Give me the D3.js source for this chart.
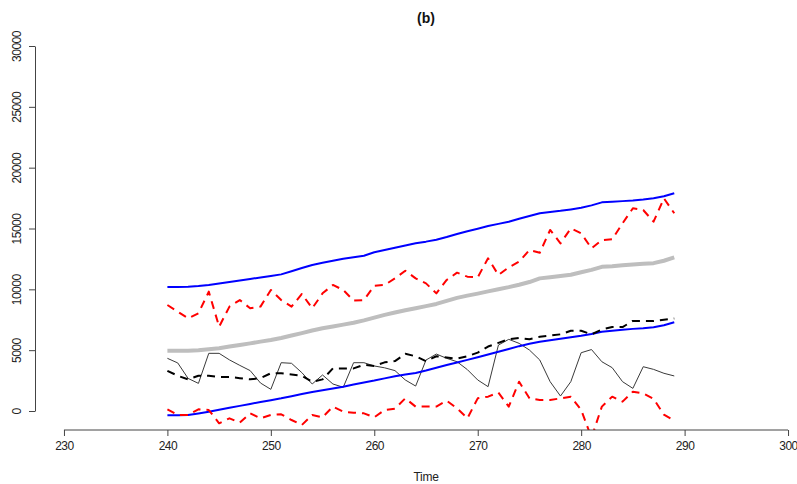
<!DOCTYPE html>
<html lang="en">
<head>
<meta charset="utf-8" />
<title>(b)</title>
<style>
html, body {
	margin: 0;
	padding: 0;
	background: #fff;
}
svg {
	display: block;
	font-family: "Liberation Sans", Arial, sans-serif;
}
</style>
</head>
<body>
<svg width="797" height="484"></svg>

<script src="https://cdn.jsdelivr.net/npm/d3@7/dist/d3.min.js"></script>
<script>

// time index
var time = [240,241,242,243,244,245,246,247,248,249,250,251,252,253,254,255,256,257,258,259,
	260,261,262,263,264,265,266,267,268,269,270,271,272,273,274,275,276,277,278,279,
	280,281,282,283,284,285,286,287,288,289];

// thin black line
var actual = [4330,3950,2680,2270,4740,4740,4200,3750,3320,2300,1780,3970,3920,3150,2220,2960,2220,1950,3970,3970,
	3700,3550,3320,2550,2050,4190,4680,4330,4050,3400,2550,2000,5420,5890,5560,5010,4190,2410,1230,2410,
	4790,5050,4050,3560,2410,1860,3640,3420,3100,2880];

// thick grey line
var forecast = [4950,4950,4960,5000,5080,5160,5300,5430,5560,5700,5840,6000,6200,6400,6620,6800,6950,7100,7250,7450,
	7680,7900,8100,8280,8450,8620,8800,9050,9300,9480,9650,9830,10000,10180,10380,10600,10900,11000,11100,11200,
	11400,11600,11850,11900,11980,12050,12100,12150,12350,12620];

// blue bands
var upperBlue = [10200,10200,10220,10280,10360,10480,10600,10720,10850,10980,11100,11230,11480,11750,12000,12180,12350,12520,12640,12760,
	13050,13230,13420,13600,13780,13920,14080,14300,14550,14780,14980,15200,15380,15560,15800,16020,16250,16350,16450,16570,
	16700,16900,17150,17200,17250,17300,17380,17480,17650,17900];
var lowerBlue = [-350,-350,-330,-200,-60,100,260,420,580,740,890,1040,1220,1390,1560,1700,1850,2000,2170,2340,
	2500,2680,2850,3000,3130,3330,3550,3780,3990,4200,4420,4640,4870,5100,5330,5520,5700,5820,5940,6060,
	6180,6330,6520,6600,6680,6750,6800,6880,7050,7300];

// black dashed line
var blackDashed = [3300,2900,2600,2900,2900,2800,2800,2700,2600,2700,3100,3100,3000,2900,2400,2600,3500,3500,3500,3800,
	3700,4000,4100,4700,4500,4100,4500,4400,4300,4500,4800,5300,5600,5900,6000,5900,6100,6200,6300,6600,
	6600,6300,6700,6900,6900,7400,7400,7400,7500,7600];

// red dashed lines
var redUpper = [8710,8160,7620,8030,9810,6930,8580,9120,8440,8580,9950,9120,8580,9620,8440,9670,10360,9950,9070,9120,
	10300,10360,10900,11530,10900,10490,9670,10770,11370,11040,10990,12550,11180,11800,12270,13230,13010,14880,13780,15010,
	14600,13370,14050,14110,15420,16660,16520,15560,17480,16250];
var redLower = [140,-330,-330,140,80,-1010,-600,-960,-190,-600,-330,-270,-740,-1150,-330,-520,360,-55,-140,-190,
	-520,80,190,1040,360,360,360,850,220,-600,1040,1180,1510,360,2410,1040,900,900,1040,1180,
	100,-2200,360,1180,770,1590,1450,1000,-300,-800];

var xTicks = [230,240,250,260,270,280,290,300];
var yTicks = [0,5000,10000,15000,20000,25000,30000];

var svg = d3.select('svg');

// plot region (R style: x range padded by 4%)
var left = 35, right = 817, axisY = 430;

var x = d3.scaleLinear().domain([227.2, 302.8]).range([left, right]);
var y = d3.scaleLinear().domain([0, 30000]).range([411, 46]);

svg.append("clipPath").attr("id", "clip")
	.append("rect")
	.attr("x", left).attr("y", 0)
	.attr("width", right - left).attr("height", axisY);

var plot = svg.append("g").attr("clip-path", "url(#clip)");

var line = d3.line()
	.x(function(d, i){ return x(time[i]); })
	.y(function(d){ return y(d); });

function draw(values, color, width, dash){
	plot.append("path")
		.datum(values)
		.attr("fill", "none")
		.attr("stroke", color)
		.attr("stroke-width", width)
		.attr("stroke-dasharray", dash || null)
		.attr("stroke-linejoin", "round")
		.attr("d", line);
}

draw(actual, "#3a3a3a", 1);
draw(forecast, "#bebebe", 4);
draw(upperBlue, "#0000ff", 2);
draw(lowerBlue, "#0000ff", 2);
draw(blackDashed, "#000", 2, "8,6");
draw(redUpper, "#ff0000", 2, "8,6");
draw(redLower, "#ff0000", 2, "8,6");

// x axis
var xAxis = svg.append("g")
	.attr("transform", "translate(0," + axisY + ")")
	.call(d3.axisBottom(x).tickValues(xTicks).tickSize(6).tickSizeOuter(0).tickFormat(d3.format("d")));
xAxis.select(".domain").remove();
xAxis.append("line")
	.attr("x1", x(xTicks[0])).attr("x2", x(xTicks[xTicks.length - 1]))
	.attr("stroke", "#444");
xAxis.selectAll(".tick line").attr("stroke", "#444");
xAxis.selectAll("text")
	.attr("fill", "#222")
	.attr("font-size", 12)
	.attr("letter-spacing", -0.5)
	.attr("y", 11);

// y axis
var yAxis = svg.append("g")
	.attr("transform", "translate(" + left + ",0)")
	.call(d3.axisLeft(y).tickValues(yTicks).tickSize(6).tickSizeOuter(0).tickFormat(d3.format("d")));
yAxis.select(".domain").attr("stroke", "#444");
yAxis.selectAll(".tick line").attr("stroke", "#444");
yAxis.selectAll("text")
	.attr("fill", "#222")
	.attr("font-size", 12)
	.attr("letter-spacing", -0.5)
	.attr("transform", "rotate(-90)")
	.attr("x", 0)
	.attr("y", -14)
	.attr("dy", 0)
	.style("text-anchor", "middle");

// title and x label
svg.append("text")
	.attr("x", (left + right) / 2).attr("y", 23)
	.attr("text-anchor", "middle")
	.attr("font-size", 14)
	.attr("font-weight", "bold")
	.attr("fill", "#111")
	.text("(b)");

svg.append("text")
	.attr("x", (left + right) / 2).attr("y", 481)
	.attr("text-anchor", "middle")
	.attr("font-size", 12)
	.attr("letter-spacing", -0.3)
	.attr("fill", "#222")
	.text("Time");

</script>
</body>
</html>
